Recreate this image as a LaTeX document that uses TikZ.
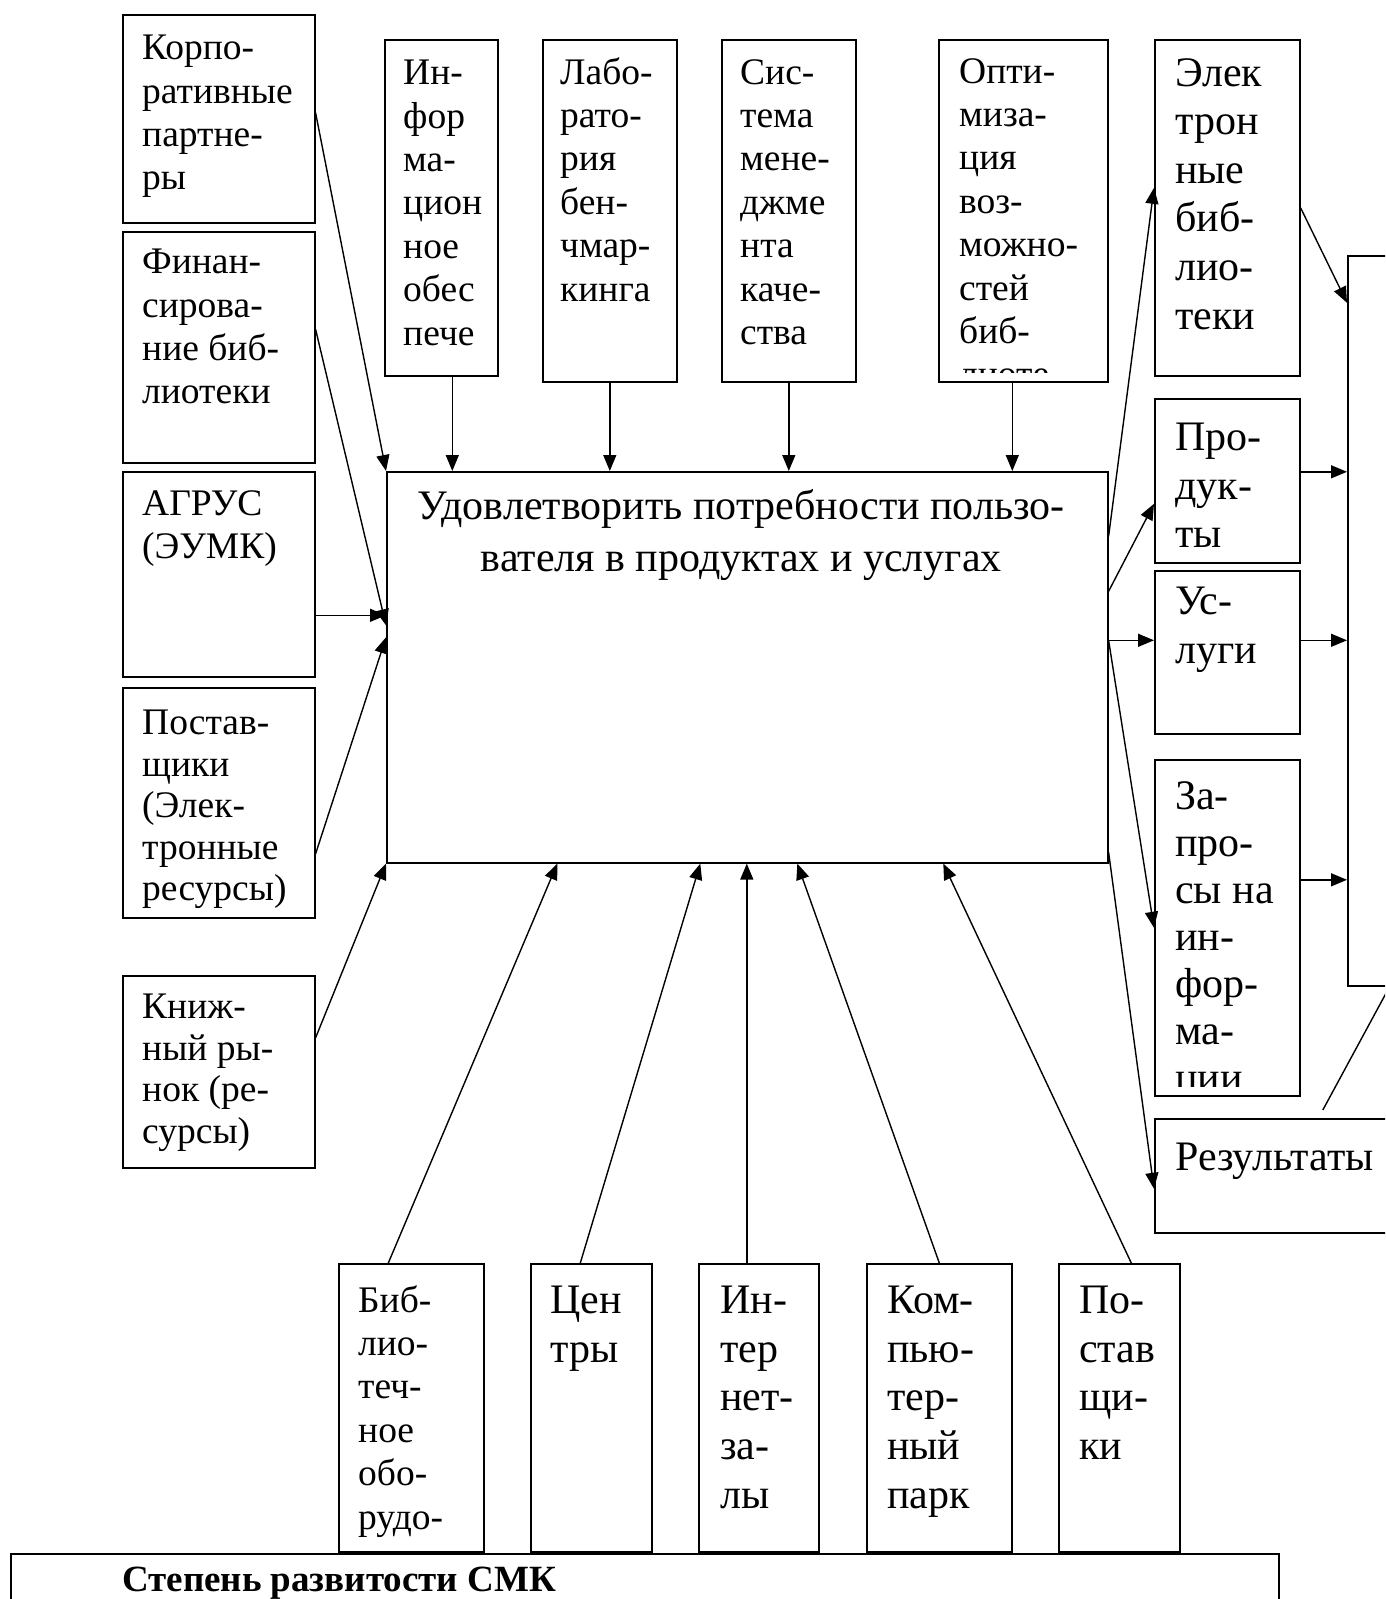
\documentclass[tikz,border=0pt]{standalone}
\usepackage{fontspec}
\setmainfont{Liberation Serif}
\usetikzlibrary{positioning, arrows.meta}

\begin{document}
\begin{tikzpicture}[
    x=1pt, y=-1pt,
    blk/.style={draw, line width=1.6pt, inner sep=0pt, anchor=north west},
    sm/.style={anchor=north west, align=left, inner sep=0pt, font=\fontsize{37.5}{43.4}\selectfont, execute at begin node=\strut},
    lg/.style={anchor=north west, align=left, inner sep=0pt, font=\fontsize{42}{48.6}\selectfont, execute at begin node=\strut},
    arr/.style={line width=1.4pt, -{Triangle[length=16pt, width=13pt]}},
    ln/.style={line width=1.4pt}
]
    \useasboundingbox (0,0) rectangle (1385,1599);
    \clip (0,0) rectangle (1385,1599);

    % main process
    \node[blk, minimum width=721pt, minimum height=391pt] (main) at (386,471) {};
    \node[anchor=north, align=center, inner sep=0pt, font=\fontsize{42}{52}\selectfont, execute at begin node=\strut] (mainT)
        at ([xshift=-6pt, yshift=-18pt]main.north) {Удовлетворить потребности пользо-\\вателя в продуктах и услугах};

    % inputs on the left
    \node[blk, minimum width=192pt, minimum height=208pt] (corp) at (122,14) {};
    \node[sm] (corpT) at ([xshift=20pt, yshift=-21pt]corp.north west) {Корпо-\\ративные\\партне-\\ры};
    \node[blk, minimum width=192pt, minimum height=231pt] (fin) at (122,231) {};
    \node[sm] (finT) at ([xshift=20pt, yshift=-18pt]fin.north west) {Финан-\\сирова-\\ние биб-\\лиотеки};
    \node[blk, minimum width=192pt, minimum height=205pt] (agr) at (122,471) {};
    \node[sm] (agrT) at ([xshift=20pt, yshift=-19pt]agr.north west) {АГРУС\\(ЭУМК)};
    \node[blk, minimum width=192pt, minimum height=230pt] (postl) at (122,687) {};
    \node[sm, font=\fontsize{37.5}{41.5}\selectfont] (postlT) at ([xshift=20pt, yshift=-23pt]postl.north west) {Постав-\\щики\\(Элек-\\тронные\\ресурсы)};
    \node[blk, minimum width=192pt, minimum height=192pt] (knig) at (122,975) {};
    \node[sm, font=\fontsize{37.5}{41.5}\selectfont] (knigT) at ([xshift=20pt, yshift=-19pt]knig.north west) {Книж-\\ный ры-\\нок (ре-\\сурсы)};

    % controls on top
    \node[blk, minimum width=113pt, minimum height=336pt] (inf) at (384,39) {};
    \node[sm] (infT) at ([xshift=19pt, yshift=-21pt]inf.north west) {Ин-\\фор\\ма-\\цион\\ное\\обес\\пече};
    \node[blk, minimum width=134pt, minimum height=342pt] (lab) at (542,39) {};
    \node[sm] (labT) at ([xshift=18pt, yshift=-18pt]lab.north west) {Лабо-\\рато-\\рия\\бен-\\чмар-\\кинга};
    \node[blk, minimum width=134pt, minimum height=342pt] (sys) at (721,39) {};
    \node[sm] (sysT) at ([xshift=19pt, yshift=-20pt]sys.north west) {Сис-\\тема\\мене-\\джме\\нта\\каче-\\ства};
    \node[blk, minimum width=169pt, minimum height=342pt] (opt) at (938,39) {};
    \begin{scope}
        \clip (opt.north west) rectangle ([yshift=10pt]opt.south east);
        \node[sm] (optT) at ([xshift=21pt, yshift=-19pt]opt.north west) {Опти-\\миза-\\ция\\воз-\\можно-\\стей\\биб-\\лиоте};
    \end{scope}

    % outputs on the right
    \node[blk, minimum width=145pt, minimum height=336pt] (elek) at (1154,39) {};
    \node[lg] (elekT) at ([xshift=21pt, yshift=-19pt]elek.north west) {Элек\\трон\\ные\\биб-\\лио-\\теки};
    \node[blk, minimum width=145pt, minimum height=164pt] (prod) at (1154,398) {};
    \node[lg] (prodT) at ([xshift=21pt, yshift=-25pt]prod.north west) {Про-\\дук-\\ты};
    \node[blk, minimum width=145pt, minimum height=163pt] (usl) at (1154,570) {};
    \node[lg] (uslT) at ([xshift=21pt, yshift=-17pt]usl.north west) {Ус-\\луги};
    \node[blk, minimum width=145pt, minimum height=336pt] (zap) at (1154,759) {};
    \begin{scope}
        \clip (zap.north west) rectangle ([yshift=10pt]zap.south east);
        \node[lg, font=\fontsize{42}{47}\selectfont] (zapT) at ([xshift=21pt, yshift=-22pt]zap.north west) {За-\\про-\\сы на\\ин-\\фор-\\ма-\\ции};
    \end{scope}
    \node[blk, minimum width=300pt, minimum height=114pt] (rez) at (1154,1118) {};
    \node[lg, anchor=base west] (rezT) at ([xshift=21pt, yshift=-52pt]rez.north west) {Результаты};
    \node[blk, minimum width=41pt, minimum height=730pt] (outbox) at (1347,255) {};

    % mechanisms at the bottom
    \node[blk, minimum width=145pt, minimum height=288pt] (bib) at (338,1263) {};
    \node[sm] (bibT) at ([xshift=20pt, yshift=-22pt]bib.north west) {Биб-\\лио-\\теч-\\ное\\обо-\\рудо-};
    \node[blk, minimum width=121pt, minimum height=288pt] (cen) at (530,1263) {};
    \node[lg] (cenT) at ([xshift=20pt, yshift=-23pt]cen.north west) {Цен\\тры};
    \node[blk, minimum width=120pt, minimum height=288pt] (inet) at (698,1263) {};
    \node[lg] (inetT) at ([xshift=22pt, yshift=-23pt]inet.north west) {Ин-\\тер\\нет-\\за-\\лы};
    \node[blk, minimum width=145pt, minimum height=288pt] (komp) at (866,1263) {};
    \node[lg] (kompT) at ([xshift=21pt, yshift=-23pt]komp.north west) {Ком-\\пью-\\тер-\\ный\\парк};
    \node[blk, minimum width=121pt, minimum height=288pt] (postb) at (1058,1263) {};
    \node[lg] (postbT) at ([xshift=21pt, yshift=-23pt]postb.north west) {По-\\став\\щи-\\ки};

    \node[blk, minimum width=1268pt, minimum height=100pt] (smk) at (10,1553) {};
    \node[anchor=base west, inner sep=0pt, font=\fontsize{37}{43}\selectfont\bfseries] (smkT)
        at ([xshift=112pt, yshift=-38pt]smk.north west) {Степень развитости СМК};

    % left arrows
    \draw[arr] ([yshift=6pt]corp.east) -- (main.north west);
    \draw[arr] ([yshift=18pt]fin.east) -- ([yshift=42pt]main.west);
    \coordinate (agrout) at ([yshift=-41pt]agr.east);
    \draw[arr] (agrout) -- (agrout -| main.west);
    \draw[arr] ([yshift=-51pt]postl.east) -- ([yshift=30pt]main.west);
    \draw[arr] ([yshift=34pt]knig.east) -- (main.south west);

    % top arrows
    \coordinate (infout) at ([xshift=11pt]inf.south);
    \draw[arr] (infout) -- (infout |- main.north);
    \draw[arr] (lab.south) -- (lab.south |- main.north);
    \draw[arr] (sys.south) -- (sys.south |- main.north);
    \coordinate (optout) at ([xshift=-11pt]opt.south);
    \draw[arr] (optout) -- (optout |- main.north);

    % right arrows
    \draw[arr] ([yshift=131pt]main.east) -- ([yshift=20pt]elek.west);
    \draw[arr] ([yshift=76pt]main.east) -- ([yshift=-23pt]prod.west);
    \coordinate (uslin) at ([yshift=12pt]usl.west);
    \draw[arr] (uslin -| main.east) -- (uslin);
    \draw[arr] (uslin -| main.east) -- (zap.west);
    \draw[arr] ([yshift=-185pt]main.east) -- ([yshift=-13pt]rez.west);

    \draw[arr] (elek.east) -- ([yshift=318pt]outbox.west);
    \coordinate (prodout) at ([yshift=9pt]prod.east);
    \draw[arr] (prodout) -- (prodout -| outbox.west);
    \coordinate (uslout) at ([yshift=12pt]usl.east);
    \draw[arr] (uslout) -- (uslout -| outbox.west);
    \coordinate (zapout) at ([yshift=48pt]zap.east);
    \draw[arr] (zapout) -- (zapout -| outbox.west);
    \coordinate (rezup) at ([xshift=18pt, yshift=8pt]rez.north);
    \draw[ln] (rezup) -- (outbox.south east);

    % bottom arrows
    \draw[arr] ([xshift=-23pt]bib.north) -- ([xshift=-190pt]main.south);
    \draw[arr] ([xshift=-11pt]cen.north) -- ([xshift=-47pt]main.south);
    \coordinate (inetout) at ([xshift=-12pt]inet.north);
    \draw[arr] (inetout) -- (inetout |- main.south);
    \draw[arr] (komp.north) -- ([xshift=50pt]main.south);
    \draw[arr] ([xshift=12pt]postb.north) -- ([xshift=196pt]main.south);
\end{tikzpicture}
\end{document}
